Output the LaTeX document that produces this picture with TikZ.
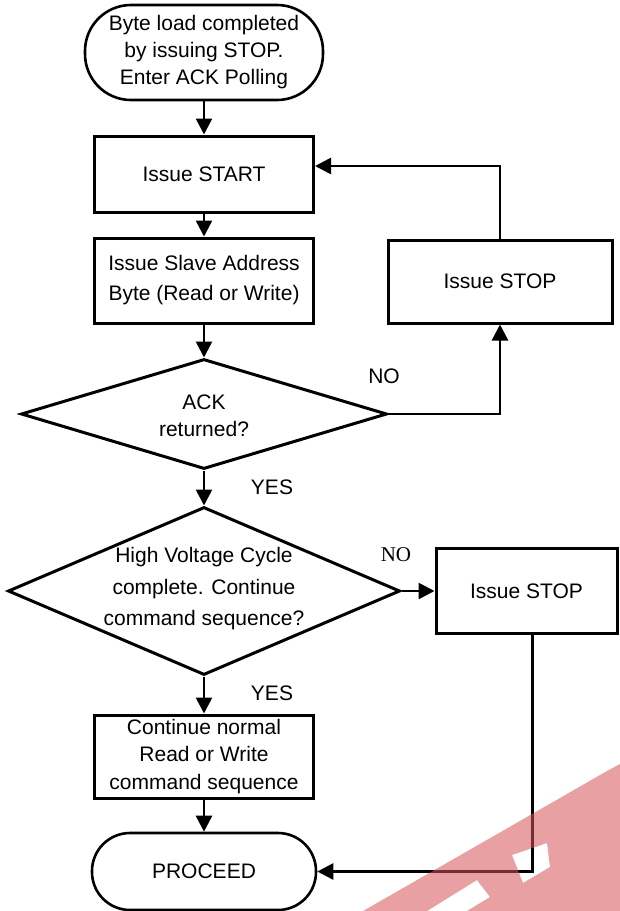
\documentclass[tikz,border=0pt]{standalone}
\usepackage{fontspec}
\setmainfont{Liberation Sans}
\newfontfamily\timesfont{Liberation Serif}
\usepackage{tikz}
\usetikzlibrary{shapes.geometric,arrows.meta}
\definecolor{wmark}{RGB}{213,82,88}

\begin{document}
\begin{tikzpicture}[x=0.5pt,y=-0.5pt,line width=1.3pt,
	>={Triangle[length=8pt,width=8pt]},
	every node/.style={font=\fontsize{10.5}{13.5}\selectfont, align=center, inner sep=0pt},
	box/.style={draw, rectangle, line width=1.5pt},
	term/.style={draw, rectangle, rounded corners=19pt, line width=1.3pt},
	decision/.style={draw, diamond, line width=1.5pt}]
	\useasboundingbox (0,0) rectangle (620,911);
	\draw (204,52.5) node(begin) [term, rounded corners=23pt, minimum width=119pt, minimum height=47.5pt] {Byte load completed\\by issuing STOP.\\Enter ACK Polling};
	\draw (204,174) node(start) [box, minimum width=109.5pt, minimum height=38pt] {Issue START};
	\draw (204,280.5) node(slave) [box, minimum width=109.5pt, minimum height=42.5pt, font=\fontsize{10.5}{15}\selectfont] {Issue Slave Address\\Byte (Read or Write)};
	\draw (204,414) node(ack) [decision, minimum width=183pt, minimum height=55pt] {};
	\draw (ack) node(acktext) [yshift=-1pt] {ACK\\returned?};
	\draw (500,281.5) node(stopa) [box, minimum width=112pt, minimum height=41.5pt] {Issue STOP};
	\draw (204,591) node(hv) [decision, minimum width=196pt, minimum height=84pt] {};
	\draw (hv) node(hvtext) [yshift=1pt, font=\fontsize{10.5}{15.75}\selectfont] {High Voltage Cycle\\complete. Continue\\command sequence?};
	\draw (526.5,591) node(stopb) [box, minimum width=90.5pt, minimum height=42.5pt] {Issue STOP};
	\draw (204,756.5) node(cont) [box, minimum width=109.5pt, minimum height=41.5pt, font=\fontsize{10.5}{13.75}\selectfont] {Continue normal\\Read or Write\\command sequence};
	\draw (204,871.5) node(proceed) [term, minimum width=112pt, minimum height=38.5pt] {PROCEED};
	% branch labels
	\draw (384,376) node(noa) {NO};
	\draw (272,487) node(yesa) {YES};
	\draw (396,555) node(nob) [font=\timesfont\fontsize{10.5}{12}\selectfont] {NO};
	\draw (272,693) node(yesb) {YES};
	% main column
	\path[draw,->] (begin) -- (start);
	\path[draw,->] (start) -- (slave);
	\path[draw,->] (slave) -- (ack);
	\path[draw,->] (ack) -- (hv);
	\path[draw,->] (hv) -- (cont);
	\path[draw,->] (cont) -- (proceed);
	% retry loop
	\path[draw,->] (ack.east) -| (stopa.south);
	\path[draw,->] (stopa.north) |- ([yshift=4pt]start.east);
	% stop branch
	\path[draw,->] (hv.east) -- (stopb.west);
	\path[draw,->] ([xshift=3pt]stopb.south) |- (proceed.east);
	% watermark
	\begin{scope}[even odd rule]
	\fill[wmark, fill opacity=0.55]
		(363,911) -- (607,771) -- (620,764) -- (620,911) -- cycle
		(427,911) -- (477,880) -- (490,897) -- (467,911) -- cycle
		(512,855) -- (547,843) -- (550,867) -- (523,883) -- cycle;
	\end{scope}
\end{tikzpicture}
\end{document}
